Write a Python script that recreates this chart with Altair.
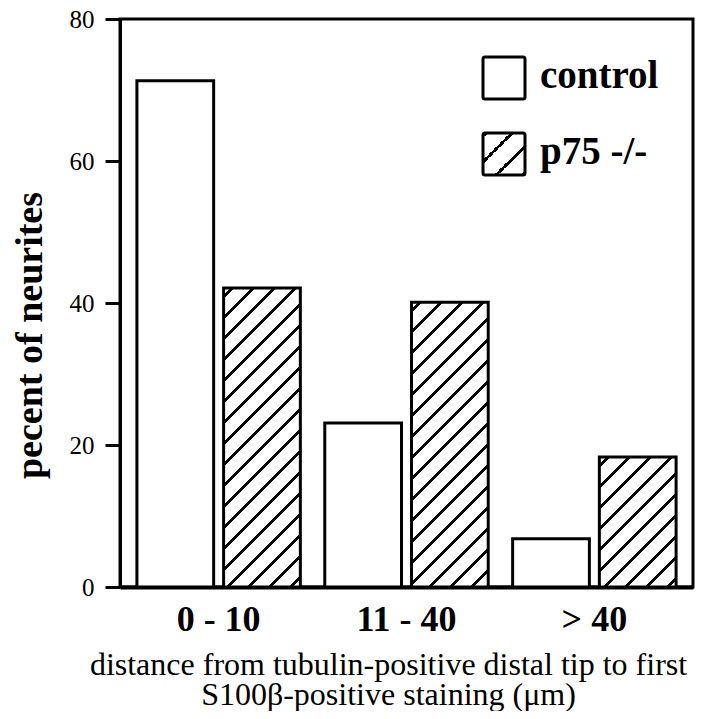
import altair as alt
import pandas as pd

# ---- data ----
categories = ["0 - 10", "11 - 40", "> 40"]
series = ["control", "p75 -/-"]
control = [71.3, 23.1, 6.8]
p75 = [42.1, 40.1, 18.3]
y_ticks = [0, 20, 40, 60, 80]
y_title = "pecent of neurites"
x_title = ["distance from tubulin-positive distal tip to first",
           "S100\u03b2-positive staining (\u03bcm)"]

rows = []
for c, a, b in zip(categories, control, p75):
    rows.append({"range": c, "group": series[0], "pct": a})
    rows.append({"range": c, "group": series[1], "pct": b})
df = pd.DataFrame(rows)

# ---- layout / style ----
W, H = 573, 568
YMAX = 80
PI, PO, PI2 = 0.13, 0.09, 0.115
FONT = "Liberation Serif"

step = W / (len(categories) - PI + 2 * PO)
group_w = step * (1 - PI)
sub_step = group_w / (len(series) - PI2)
bar_w = sub_step * (1 - PI2)


def hatch(w, h, spacing=21.0, thick=3.8, phase=9.0):
    """Linear gradient with sharp stops that renders 45 degree '/' stripes."""
    L = w + h
    k = L * w / (w * w + h * h)
    stops = [{"offset": 0, "color": "white"}]
    c = phase
    while c - thick / 2 < L:
        a = max(0.0, (c - thick / 2) / L)
        b = min(1.0, (c + thick / 2) / L)
        stops += [{"offset": a, "color": "white"}, {"offset": a, "color": "black"},
                  {"offset": b, "color": "black"}, {"offset": b, "color": "white"}]
        c += spacing
    stops.append({"offset": 1, "color": "white"})
    return {"gradient": "linear", "x1": 0, "y1": 0, "x2": k, "y2": k * h / w, "stops": stops}


x_enc = alt.X("range:N", sort=categories,
              scale=alt.Scale(domain=categories, paddingInner=PI, paddingOuter=PO),
              axis=alt.Axis(title=x_title, labelAngle=0, ticks=False, domainWidth=4,
                            labelFont=FONT, labelFontSize=36, labelFontWeight="bold",
                            labelBaseline="alphabetic", labelPadding=43,
                            titleFont=FONT, titleFontSize=32, titleFontWeight="normal",
                            titleX=268, titleY=87, titleAlign="center",
                            titleBaseline="alphabetic", titleLineHeight=30))
xo_enc = alt.XOffset("group:N", sort=series,
                     scale=alt.Scale(domain=series, paddingInner=PI2, paddingOuter=0))
y_enc = alt.Y("pct:Q", scale=alt.Scale(domain=[0, YMAX], nice=False),
              axis=alt.Axis(values=y_ticks, title=y_title, grid=False,
                            tickSize=15, tickWidth=3, domainWidth=3,
                            labelFont=FONT, labelFontSize=25, labelPadding=11,
                            titleFont=FONT, titleFontSize=38, titleFontWeight="bold",
                            titleAngle=270, titleX=-79, titleY=316,
                            titleAlign="center", titleBaseline="alphabetic"))

bar_style = dict(stroke="black", strokeWidth=3)

layers = []
base = alt.Chart(df[df["group"] == series[0]]).mark_bar(fill="white", **bar_style).encode(
    x=x_enc, xOffset=xo_enc, y=y_enc)
layers.append(base)

for c, v in zip(categories, p75):
    sub = df[(df["group"] == series[1]) & (df["range"] == c)]
    layers.append(alt.Chart(sub).mark_bar(fill=hatch(bar_w, v * H / YMAX), **bar_style).encode(
        x=x_enc, xOffset=xo_enc, y=y_enc))

# ---- legend drawn inside the plot ----
leg_rows = [(series[0], 38, 69, "white"),
            (series[1], 114, 145, hatch(42, 42, spacing=26, thick=4.0, phase=3))]
for name, ytop, ybase, fill in leg_rows:
    d = pd.DataFrame({"group": [name]})
    layers.append(alt.Chart(d).mark_rect(fill=fill, stroke="black", strokeWidth=3, cornerRadius=2).encode(
        x=alt.value(363), x2=alt.value(405), y=alt.value(ytop), y2=alt.value(ytop + 42)))
    layers.append(alt.Chart(d).mark_text(align="left", baseline="alphabetic", font=FONT,
                                         fontSize=39, fontWeight="bold", color="black").encode(
        x=alt.value(420), y=alt.value(ybase), text="group:N"))

chart = alt.layer(*layers).properties(
    width=W, height=H,
    autosize=alt.AutoSizeParams(type="none"),
    padding={"left": 112, "top": 11, "right": 16, "bottom": 124},
).configure(background="white").configure_view(
    stroke="black", strokeWidth=3
).configure_axis(
    domainColor="black", tickColor="black", labelColor="black", titleColor="black"
)

chart.save("out.html", embed_options={"renderer": "svg", "actions": False})
